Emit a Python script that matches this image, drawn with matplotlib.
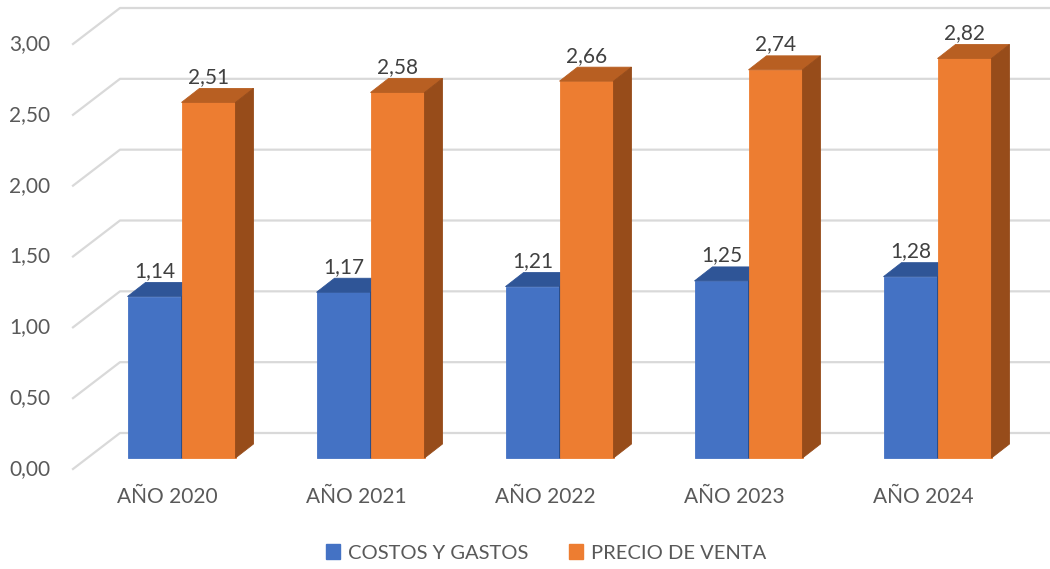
import matplotlib
matplotlib.use("Agg")
import matplotlib.pyplot as plt
from matplotlib.patches import Polygon, Patch
import numpy as np

categories = ["AÑO 2020", "AÑO 2021", "AÑO 2022", "AÑO 2023", "AÑO 2024"]
costos = [1.14, 1.17, 1.21, 1.25, 1.28]
precio = [2.51, 2.58, 2.66, 2.74, 2.82]
series_names = ["COSTOS Y GASTOS", "PRECIO DE VENTA"]
yticks = [0.0, 0.5, 1.0, 1.5, 2.0, 2.5, 3.0]

plt.rcParams['font.family'] = ['Lato', 'DejaVu Sans']

W, H = 1050, 569
fig = plt.figure(figsize=(W / 100, H / 100), dpi=100)
# front plane: x from 73 to 1018 px, y from 469 (0) to 44 (3)
ax = fig.add_axes([73 / W, (H - 469) / H, (1018 - 73) / W, 425 / H])
ax.set_xlim(-0.5, len(categories) - 0.5)
ax.set_ylim(0, 3)
ax.axis('off')

px_cat = (1018 - 73) / len(categories)
px_val = 425 / 3.0
# full depth of the wall
DX, DY = 47 / px_cat, 36 / px_val
# bar front offset and bar depth
FX, FY = 14 / px_cat, 11 / px_val
BX, BY = 18 / px_cat, 14 / px_val
bw = 54 / px_cat

grid_c = '#d9d9d9'
for v in yticks:
    x0 = -0.5
    ax.plot([x0, x0 + DX, len(categories) + 1], [v, v + DY, v + DY],
            color=grid_c, lw=1.6, clip_on=False, zorder=1)
    ax.text(-0.5 - 23 / px_cat, v, f"{v:.2f}".replace('.', ','), ha='right', va='center',
            fontsize=15, color='#595959')

cols = [('#4472c4', '#2f5597', '#2a4b85'), ('#ed7d31', '#b85f22', '#974c1a')]
x = np.arange(len(categories))


def draw_bar(xl, v, colset, z):
    front, top, side = colset
    x0 = xl + FX
    y0 = FY
    ax.bar(x0, v, width=bw, bottom=y0, align='edge', color=front, zorder=z,
           linewidth=0.6, edgecolor=front)
    ax.add_patch(Polygon([(x0, y0 + v), (x0 + bw, y0 + v), (x0 + bw + BX, y0 + v + BY),
                          (x0 + BX, y0 + v + BY)], closed=True, facecolor=top,
                         edgecolor=top, lw=0.6, zorder=z))
    ax.add_patch(Polygon([(x0 + bw, y0), (x0 + bw + BX, y0 + BY), (x0 + bw + BX, y0 + v + BY),
                          (x0 + bw, y0 + v)], closed=True, facecolor=side,
                         edgecolor=side, lw=0.6, zorder=z))
    ax.annotate(f"{v:.2f}".replace('.', ','), (x0 + bw / 2, y0 + v + BY), xytext=(0, 1),
                textcoords='offset points', ha='center', va='bottom', fontsize=15,
                color='#404040', zorder=10)


for i in range(len(categories)):
    draw_bar(x[i] - bw, costos[i], cols[0], 3 + 2 * i)
    draw_bar(x[i], precio[i], cols[1], 4 + 2 * i)
    ax.text(x[i], -(497 - 469) / px_val, categories[i], ha='center', va='center',
            fontsize=15, color='#595959')

handles = [Patch(color=cols[0][0]), Patch(color=cols[1][0])]
fig.legend(handles, series_names, loc='center', bbox_to_anchor=(546 / W, 1 - 553 / H), ncol=2,
           frameon=False, fontsize=14.5, labelcolor='#595959', handlelength=0.7,
           handleheight=0.7, handletextpad=0.4, columnspacing=2.0)

fig.savefig('out.png', dpi=100)
